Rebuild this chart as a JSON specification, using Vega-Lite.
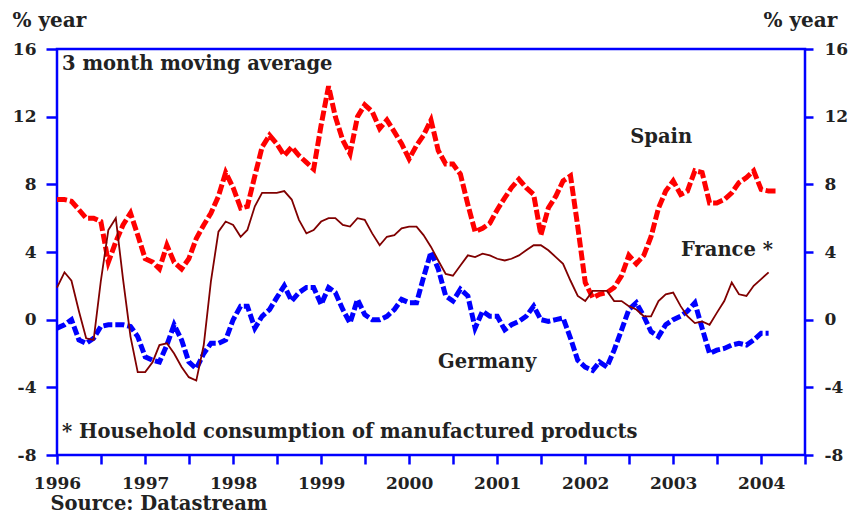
{
  "$schema": "https://vega.github.io/schema/vega-lite/v6.json",
  "width": 748,
  "height": 406,
  "autosize": {"type": "none"},
  "padding": {"left": 57, "top": 49, "right": 53, "bottom": 60},
  "background": "white",
  "config": {
    "view": {"stroke": "#0000ff", "strokeWidth": 2.5},
    "font": "DejaVu Serif",
    "axis": {
      "labelFont": "DejaVu Serif", "labelFontWeight": "bold", "labelFontSize": 17, "labelColor": "#222222",
      "tickColor": "#0000ff", "tickWidth": 2.5, "domain": false, "grid": false,
      "titleFont": "DejaVu Serif", "titleFontWeight": "bold", "titleFontSize": 19.5, "titleColor": "#222222"
    }
  },
  "datasets": {
    "notes": [
      {"label": "3 month moving average", "d": "1996-01-22", "v": 15.1, "pos": "left"},
      {"label": "* Household consumption of manufactured products", "d": "1996-01-22", "v": -6.64, "pos": "left"},
      {"label": "Spain", "d": "2002-11-12", "v": 10.8, "pos": "center"},
      {"label": "France *", "d": "2003-08-12", "v": 4.1, "pos": "center"},
      {"label": "Germany", "d": "2000-11-20", "v": -2.5, "pos": "center"}
    ]
  },
  "data": {"values": [
    {"d":"1996-01","spain":7.1,"france":1.9,"germany":-0.5},
    {"d":"1996-02","spain":7.1,"france":2.8,"germany":-0.3},
    {"d":"1996-03","spain":7.0,"france":2.3,"germany":0.0},
    {"d":"1996-04","spain":6.5,"france":0.5,"germany":-1.2},
    {"d":"1996-05","spain":6.0,"france":-1.1,"germany":-1.4},
    {"d":"1996-06","spain":6.0,"france":-1.2,"germany":-1.1},
    {"d":"1996-07","spain":5.8,"france":2.3,"germany":-0.4},
    {"d":"1996-08","spain":3.4,"france":5.3,"germany":-0.3},
    {"d":"1996-09","spain":4.6,"france":6.0,"germany":-0.3},
    {"d":"1996-10","spain":5.6,"france":2.4,"germany":-0.3},
    {"d":"1996-11","spain":6.3,"france":-1.0,"germany":-0.4},
    {"d":"1996-12","spain":5.0,"france":-3.1,"germany":-1.0},
    {"d":"1997-01","spain":3.6,"france":-3.1,"germany":-2.2},
    {"d":"1997-02","spain":3.4,"france":-2.5,"germany":-2.4},
    {"d":"1997-03","spain":3.0,"france":-1.5,"germany":-2.5},
    {"d":"1997-04","spain":4.4,"france":-1.4,"germany":-1.5},
    {"d":"1997-05","spain":3.4,"france":-2.0,"germany":-0.3},
    {"d":"1997-06","spain":3.0,"france":-2.8,"germany":-1.2},
    {"d":"1997-07","spain":3.6,"france":-3.4,"germany":-2.5},
    {"d":"1997-08","spain":4.8,"france":-3.6,"germany":-2.9},
    {"d":"1997-09","spain":5.6,"france":-1.5,"germany":-2.0},
    {"d":"1997-10","spain":6.3,"france":2.3,"germany":-1.4},
    {"d":"1997-11","spain":7.3,"france":5.2,"germany":-1.4},
    {"d":"1997-12","spain":8.7,"france":5.8,"germany":-1.2},
    {"d":"1998-01","spain":7.8,"france":5.6,"germany":0.0},
    {"d":"1998-02","spain":6.6,"france":4.9,"germany":0.8},
    {"d":"1998-03","spain":6.7,"france":5.3,"germany":0.8},
    {"d":"1998-04","spain":8.5,"france":6.7,"germany":-0.5},
    {"d":"1998-05","spain":10.2,"france":7.5,"germany":0.2},
    {"d":"1998-06","spain":10.9,"france":7.5,"germany":0.6},
    {"d":"1998-07","spain":10.4,"france":7.5,"germany":1.3},
    {"d":"1998-08","spain":9.7,"france":7.6,"germany":2.0},
    {"d":"1998-09","spain":10.2,"france":7.1,"germany":1.1},
    {"d":"1998-10","spain":9.7,"france":5.9,"germany":1.6},
    {"d":"1998-11","spain":9.3,"france":5.1,"germany":1.9},
    {"d":"1998-12","spain":8.9,"france":5.3,"germany":1.9},
    {"d":"1999-01","spain":11.5,"france":5.8,"germany":0.9},
    {"d":"1999-02","spain":13.8,"france":6.0,"germany":1.9},
    {"d":"1999-03","spain":12.0,"france":6.0,"germany":1.6},
    {"d":"1999-04","spain":10.6,"france":5.6,"germany":0.6},
    {"d":"1999-05","spain":9.8,"france":5.5,"germany":-0.2},
    {"d":"1999-06","spain":12.0,"france":6.0,"germany":1.2},
    {"d":"1999-07","spain":12.7,"france":5.9,"germany":0.3},
    {"d":"1999-08","spain":12.3,"france":5.1,"germany":0.0},
    {"d":"1999-09","spain":11.3,"france":4.4,"germany":0.0},
    {"d":"1999-10","spain":11.8,"france":4.9,"germany":0.2},
    {"d":"1999-11","spain":11.1,"france":5.0,"germany":0.6},
    {"d":"1999-12","spain":10.4,"france":5.4,"germany":1.2},
    {"d":"2000-01","spain":9.5,"france":5.5,"germany":1.0},
    {"d":"2000-02","spain":10.3,"france":5.5,"germany":1.0},
    {"d":"2000-03","spain":10.9,"france":5.0,"germany":2.5},
    {"d":"2000-04","spain":11.8,"france":4.3,"germany":4.0},
    {"d":"2000-05","spain":10.0,"france":3.5,"germany":3.0},
    {"d":"2000-06","spain":9.2,"france":2.7,"germany":1.4},
    {"d":"2000-07","spain":9.2,"france":2.6,"germany":1.1},
    {"d":"2000-08","spain":8.6,"france":3.2,"germany":1.8},
    {"d":"2000-09","spain":6.8,"france":3.8,"germany":1.4},
    {"d":"2000-10","spain":5.2,"france":3.7,"germany":-0.5},
    {"d":"2000-11","spain":5.4,"france":3.9,"germany":0.5},
    {"d":"2000-12","spain":5.7,"france":3.8,"germany":0.2},
    {"d":"2001-01","spain":6.5,"france":3.6,"germany":0.2},
    {"d":"2001-02","spain":7.2,"france":3.5,"germany":-0.6},
    {"d":"2001-03","spain":7.8,"france":3.6,"germany":-0.3},
    {"d":"2001-04","spain":8.3,"france":3.8,"germany":-0.1},
    {"d":"2001-05","spain":7.8,"france":4.1,"germany":0.2},
    {"d":"2001-06","spain":7.4,"france":4.4,"germany":0.8},
    {"d":"2001-07","spain":5.0,"france":4.4,"germany":0.0},
    {"d":"2001-08","spain":6.6,"france":4.1,"germany":-0.1},
    {"d":"2001-09","spain":7.3,"france":3.7,"germany":0.0},
    {"d":"2001-10","spain":8.2,"france":3.3,"germany":0.1},
    {"d":"2001-11","spain":8.5,"france":2.3,"germany":-1.1},
    {"d":"2001-12","spain":5.5,"france":1.4,"germany":-2.4},
    {"d":"2002-01","spain":2.2,"france":1.1,"germany":-2.8},
    {"d":"2002-02","spain":1.3,"france":1.7,"germany":-3.0},
    {"d":"2002-03","spain":1.5,"france":1.7,"germany":-2.5},
    {"d":"2002-04","spain":1.6,"france":1.7,"germany":-2.8},
    {"d":"2002-05","spain":1.9,"france":1.1,"germany":-1.8},
    {"d":"2002-06","spain":2.6,"france":1.1,"germany":-0.6},
    {"d":"2002-07","spain":3.8,"france":0.8,"germany":0.6},
    {"d":"2002-08","spain":3.3,"france":0.6,"germany":1.0},
    {"d":"2002-09","spain":3.8,"france":0.2,"germany":0.2},
    {"d":"2002-10","spain":4.9,"france":0.2,"germany":-0.7},
    {"d":"2002-11","spain":6.6,"france":1.1,"germany":-1.0},
    {"d":"2002-12","spain":7.6,"france":1.5,"germany":-0.3},
    {"d":"2003-01","spain":8.2,"france":1.6,"germany":0.0},
    {"d":"2003-02","spain":7.4,"france":0.8,"germany":0.2},
    {"d":"2003-03","spain":7.6,"france":0.2,"germany":0.5},
    {"d":"2003-04","spain":8.8,"france":-0.2,"germany":1.0},
    {"d":"2003-05","spain":8.7,"france":-0.1,"germany":-0.5},
    {"d":"2003-06","spain":6.9,"france":-0.3,"germany":-2.0},
    {"d":"2003-07","spain":6.9,"france":0.4,"germany":-1.8},
    {"d":"2003-08","spain":7.1,"france":1.1,"germany":-1.7},
    {"d":"2003-09","spain":7.5,"france":2.2,"germany":-1.5},
    {"d":"2003-10","spain":8.1,"france":1.5,"germany":-1.4},
    {"d":"2003-11","spain":8.4,"france":1.4,"germany":-1.5},
    {"d":"2003-12","spain":8.8,"france":2.0,"germany":-1.2},
    {"d":"2004-01","spain":7.7,"france":2.4,"germany":-0.8},
    {"d":"2004-02","spain":7.6,"france":2.8,"germany":-0.8},
    {"d":"2004-03","spain":7.6,"france":null,"germany":null}
  ]},
  "encoding": {
    "x": {
      "field": "d", "type": "temporal",
      "scale": {"type": "utc", "domain": [{"year": 1996, "month": 1, "date": 1, "utc": true}, {"year": 2004, "month": 7, "date": 1, "utc": true}]},
      "axis": {
        "values": [
          {"year":1996,"month":1,"date":1,"utc":true},{"year":1996,"month":7,"date":1,"utc":true},
          {"year":1997,"month":1,"date":1,"utc":true},{"year":1997,"month":7,"date":1,"utc":true},
          {"year":1998,"month":1,"date":1,"utc":true},{"year":1998,"month":7,"date":1,"utc":true},
          {"year":1999,"month":1,"date":1,"utc":true},{"year":1999,"month":7,"date":1,"utc":true},
          {"year":2000,"month":1,"date":1,"utc":true},{"year":2000,"month":7,"date":1,"utc":true},
          {"year":2001,"month":1,"date":1,"utc":true},{"year":2001,"month":7,"date":1,"utc":true},
          {"year":2002,"month":1,"date":1,"utc":true},{"year":2002,"month":7,"date":1,"utc":true},
          {"year":2003,"month":1,"date":1,"utc":true},{"year":2003,"month":7,"date":1,"utc":true},
          {"year":2004,"month":1,"date":1,"utc":true},{"year":2004,"month":7,"date":1,"utc":true}
        ],
        "labelExpr": "utcFormat(datum.value, '%m') == '01' ? utcFormat(datum.value, '%Y') : ''",
        "tickSize": 9, "labelPadding": 11, "labelFlush": false, "labelBound": false, "labelOverlap": false,
        "title": "Source: Datastream", "titleAnchor": "start", "titleAlign": "left", "titleBaseline": "middle",
        "titleX": -7, "titleY": 48
      }
    }
  },
  "resolve": {"axis": {"y": "independent"}},
  "layer": [
    {
      "data": {"values": [{"z": 0}]},
      "mark": {"type": "rule", "color": "#0000ff", "strokeWidth": 2},
      "encoding": {
        "x": {"datum": {"year": 1996, "month": 1, "date": 1, "utc": true}, "type": "temporal"},
        "x2": {"datum": {"year": 2004, "month": 7, "date": 1, "utc": true}},
        "y": {"field": "z", "type": "quantitative",
          "scale": {"domain": [-8, 16], "nice": false, "zero": false},
          "axis": {"orient": "left", "values": [-8, -4, 0, 4, 8, 12, 16], "labelExpr": "'' + datum.value",
            "tickSize": 11, "labelPadding": 10,
            "title": "% year", "titleFontSize": 20, "titleAngle": 0, "titleAlign": "left", "titleBaseline": "middle", "titleX": -45, "titleY": -29}}
      }
    },
    {
      "mark": {"type": "line", "color": "#ff0000", "strokeWidth": 5, "strokeDash": [10, 3], "strokeCap": "butt"},
      "encoding": {
        "y": {"field": "spain", "type": "quantitative",
          "scale": {"domain": [-8, 16], "nice": false, "zero": false},
          "axis": {"orient": "right", "values": [-8, -4, 0, 4, 8, 12, 16], "labelExpr": "'' + datum.value",
            "tickSize": 8, "labelPadding": 11,
            "title": "% year", "titleFontSize": 20, "titleAngle": 0, "titleAlign": "left", "titleBaseline": "middle", "titleX": -42, "titleY": -29}}
      }
    },
    {
      "mark": {"type": "line", "color": "#0000ff", "strokeWidth": 5, "strokeDash": [9, 3], "strokeCap": "butt"},
      "encoding": {"y": {"field": "germany", "type": "quantitative", "axis": null}}
    },
    {
      "mark": {"type": "line", "color": "#800000", "strokeWidth": 1.8},
      "encoding": {"y": {"field": "france", "type": "quantitative", "axis": null}}
    },
    {
      "data": {"name": "notes"},
      "transform": [{"filter": "datum.pos == 'left'"}],
      "mark": {"type": "text", "align": "left", "baseline": "middle", "font": "DejaVu Serif", "fontWeight": "bold", "fontSize": 19.5, "color": "#222222"},
      "encoding": {
        "y": {"field": "v", "type": "quantitative", "axis": null},
        "text": {"field": "label"}
      }
    },
    {
      "data": {"name": "notes"},
      "transform": [{"filter": "datum.pos == 'center'"}],
      "mark": {"type": "text", "align": "center", "baseline": "middle", "font": "DejaVu Serif", "fontWeight": "bold", "fontSize": 19.5, "color": "#222222"},
      "encoding": {
        "y": {"field": "v", "type": "quantitative", "axis": null},
        "text": {"field": "label"}
      }
    }
  ]
}
